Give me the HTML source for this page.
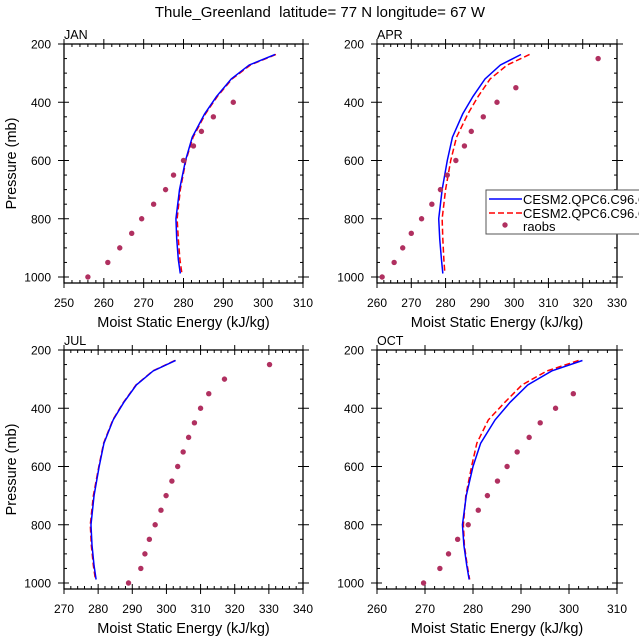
<!DOCTYPE html>
<html><head><meta charset="utf-8"><style>
html,body{margin:0;padding:0;background:#fff}
svg{display:block;font-family:"Liberation Sans",Arial,sans-serif}
</style></head><body>
<svg id="c" width="639" height="639" viewBox="0 0 639 639">
<text x="320" y="17" text-anchor="middle" font-size="15" style="white-space:pre">Thule_Greenland  latitude= 77 N longitude= 67 W</text>
</svg>
<script>
const modelP = [236,272,320,380,440,520,600,700,800,870,940,988];
const janBlue = [303,296.5,292,288.3,285.3,282.2,280.5,279,278.1,278.3,278.7,279.2];
const janRed  = [303.2,296.8,292.2,288.5,285.5,282.4,280.6,279.2,278.4,278.7,279.1,279.6];
const aprBlue = [302,296,291.5,288,285,282,280.5,279,278,278.3,278.8,279.2];
const aprRed  = [304.5,298,293,289.5,286.5,283.2,281.5,280,279,279.2,279.5,279.8];
const julBlue = [302.7,296.1,291.2,287.5,284.4,281.7,280.3,278.8,277.9,278.2,278.8,279.4];
const julRed  = [302.5,296,291.1,287.4,284.3,281.6,280.2,278.6,277.7,278,278.6,279.2];
const octBlue = [302.8,296.4,291.4,287.7,284.6,281.6,280,278.6,277.8,278.1,278.7,279.2];
const octRed  = [302,295.4,290.2,286.6,283.2,280.8,279.7,278.5,278,278.2,278.8,279.3];
const janObsP = [1000,950,900,850,800,750,700,650,600,550,500,450,400];
const janObs  = [256,261,264,267,269.5,272.5,275.5,277.5,280,282.5,284.5,287.5,292.5];
const aprObsP = [1000,950,900,850,800,750,700,650,600,550,500,450,400,350,250];
const aprObs  = [261.5,265,267.5,270,273,276,278.5,280.5,283,285.5,287.5,291,295,300.5,324.5];
const julObsP = [1000,950,900,850,800,750,700,650,600,550,500,450,400,350,300,250];
const julObs  = [288.9,292.5,293.7,295,296.7,298.4,299.9,301.6,303.3,304.9,306.5,308.2,310,312.4,317,330.2];
const octObsP = [1000,950,900,850,800,750,700,650,600,550,500,450,400,350];
const octObs  = [269.7,273.1,274.9,276.8,279,281.1,283,285.1,287.1,289.2,291.7,294,297.2,300.9];
const yTicks = [200,400,600,800,1000];

const NS="http://www.w3.org/2000/svg";
const svg=document.getElementById('c');
function mk(tag,attrs,parent){const e=document.createElementNS(NS,tag);for(const k in attrs)e.setAttribute(k,attrs[k]);(parent||svg).appendChild(e);return e;}

const panels=[
 {name:'jan',label:'JAN',L:64,R:303,T:44,B:283,xmin:250,xmax:310,blue:janBlue,red:janRed,op:janObsP,ov:janObs,ylab:true},
 {name:'apr',label:'APR',L:377,R:617,T:44,B:283,xmin:260,xmax:330,blue:aprBlue,red:aprRed,op:aprObsP,ov:aprObs,ylab:false},
 {name:'jul',label:'JUL',L:64,R:303,T:350,B:589,xmin:270,xmax:340,blue:julBlue,red:julRed,op:julObsP,ov:julObs,ylab:true},
 {name:'oct',label:'OCT',L:377,R:617,T:350,B:589,xmin:260,xmax:310,blue:octBlue,red:octRed,op:octObsP,ov:octObs,ylab:false}
];
panels.forEach(p=>{
 const g=mk('g',{});
 
 
 const pmax=200+(p.B-p.T)/(233/800);
 const xs=v=>p.L+(v-p.xmin)/(p.xmax-p.xmin)*(p.R-p.L);
 const ys=v=>p.T+(v-200)*(233/800);
 for(let v=p.xmin;v<=p.xmax+1e-6;v+=2){
  const major=Math.abs((v-p.xmin)%10)<1e-6; const len=major?5:3; const x=xs(v);
  mk('line',{x1:x,x2:x,y1:p.B+(major?5:0),y2:p.B-len,stroke:'#000','stroke-width':1},g);
  mk('line',{x1:x,x2:x,y1:p.T-(major?5:0),y2:p.T+len,stroke:'#000','stroke-width':1},g);
  if(major){const t=mk('text',{x:x,y:p.B+24,'text-anchor':'middle','font-size':12},g);t.textContent=v;
   
   }
 }
 for(let v=200;v<=pmax;v+=50){
  const major=v%200===0; const len=major?5:3; const y=ys(v);
  mk('line',{x1:p.L-(major?6:0),x2:p.L+len,y1:y,y2:y,stroke:'#000','stroke-width':1},g);
  mk('line',{x1:p.R+(major?6:0),x2:p.R-len,y1:y,y2:y,stroke:'#000','stroke-width':1},g);
 }
 yTicks.forEach(v=>{const t=mk('text',{x:p.L-13,y:ys(v)+4.5,'text-anchor':'end','font-size':12},g);t.textContent=v;
  
  });
 mk('rect',{x:p.L,y:p.T,width:p.R-p.L,height:p.B-p.T,fill:'none',stroke:'#000','stroke-width':1.3},g);
 const lab=mk('text',{x:p.L,y:p.T-5,'font-size':12.5},g);lab.textContent=p.label;
 
 
 const xt=mk('text',{x:(p.L+p.R)/2,y:p.B+44,'text-anchor':'middle','font-size':14.5},g);xt.textContent='Moist Static Energy (kJ/kg)';
 
 
 if(p.ylab){const yt=mk('text',{x:0,y:0,'text-anchor':'middle','font-size':14.5,transform:`translate(16,${(p.T+p.B)/2}) rotate(-90)`},g);yt.textContent='Pressure (mb)';
  
  }
 const red=mk('polyline',{points:p.red.map((v,i)=>xs(v)+','+ys(modelP[i])).join(' '),fill:'none',stroke:'#ff0000','stroke-width':1.5,'stroke-dasharray':'6,3'},g);
 
 
 const blue=mk('polyline',{points:p.blue.map((v,i)=>xs(v)+','+ys(modelP[i])).join(' '),fill:'none',stroke:'#0000ff','stroke-width':1.5},g);
 
 
 p.ov.forEach((v,i)=>{const c=mk('circle',{cx:xs(v),cy:ys(p.op[i]),r:2.7,fill:'#b03060'},g);
  
  });
});
const lg=mk('g',{});


mk('rect',{x:486,y:190,width:160,height:44,fill:'#fff',stroke:'#555','stroke-width':1},lg);
mk('line',{x1:489,x2:522,y1:199,y2:199,stroke:'#0000ff','stroke-width':1.5},lg);
mk('line',{x1:489,x2:522,y1:213,y2:213,stroke:'#ff0000','stroke-width':1.5,'stroke-dasharray':'6,3'},lg);
mk('circle',{cx:505,cy:225,r:2.7,fill:'#b03060'},lg);
[['CESM2.QPC6.C96.C',204],['CESM2.QPC6.C96.C',218],['raobs',231]].forEach(([s,y],i)=>{
 const t=mk('text',{x:523,y:y,'font-size':13},lg);t.textContent=s;
 
 
});
</script>
</body></html>
